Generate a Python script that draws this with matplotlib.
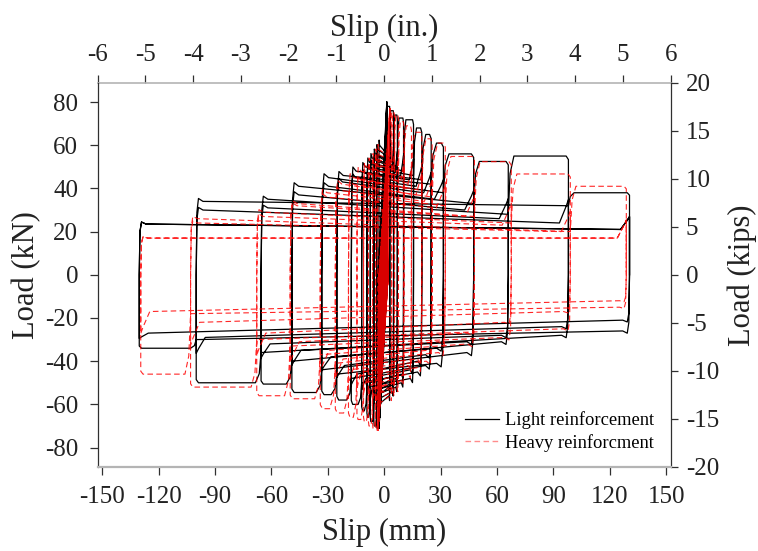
import numpy as np
import matplotlib
matplotlib.use('Agg')
import matplotlib.pyplot as plt
from matplotlib.lines import Line2D

plt.rcParams['font.family'] = ['Liberation Serif', 'DejaVu Serif']
plt.rcParams['axes.unicode_minus'] = False

MM_PER_IN = 25.4
KN_PER_KIP = 4.44822

# ---- data (slip in mm, load in kN) ----
series_labels = ['Light reinforcement', 'Heavy reinforcment']

# small elastic cycles before slip (negative peak / positive peak)
light_pre_neg_x = [-0.3, -0.6, -0.9, -1.2, -1.6, -2.0, -2.4, -2.8]
light_pre_neg_p = [-12, -22, -32, -42, -52, -60, -66, -71]
light_pre_pos_x = [0.1, 0.25, 0.4, 0.6, 0.8, 1.0, 1.2, 1.4]
light_pre_pos_p = [12, 22, 33, 44, 55, 64, 73, 80]

heavy_pre_neg_x = [-0.4, -0.8, -1.2, -1.6, -2.0, -2.5, -3.0, -3.4]
heavy_pre_neg_p = [-12, -22, -33, -44, -54, -62, -68, -72]
heavy_pre_pos_x = [0.3, 0.6, 0.9, 1.3, 1.7, 2.1, 2.5, 3.0]
heavy_pre_pos_p = [12, 22, 32, 43, 53, 62, 70, 77]

# slip levels: amplitudes, peaks (first cycle), plateaus (start, end) of 1st / 2nd cycle
light_amp_pos = [3.0, 5.0, 7.0, 10.3, 15.6, 20.0, 25.0, 31.5, 47.6, 66.0, 98.0, 130.5]
light_amp_neg = [-4.0, -5.5, -7.4, -9.2, -12.0, -17.5, -25.2, -33.2, -49.1, -65.5, -100.0, -130.3]
light_peak_pos = [78, 76, 74, 72.6, 71.8, 68, 65, 61, 56, 52.5, 55, 38]
light_peak_neg = [-71, -70, -68, -66, -63, -60, -58, -55.5, -54.5, -50.6, -50, -34]
light_plat1_pos = [(60, 56), (58, 54), (56, 52), (54, 50), (52, 48), (50, 46), (48, 44),
                   (46, 42), (45, 38), (41, 33), (35, 28), (34, 32)]
light_plat1_neg = [(-56, -60), (-54, -58), (-52, -56), (-50, -54), (-48, -52), (-45, -50), (-42, -48),
                   (-41, -46), (-36, -44), (-31, -40), (-28, -36), (-26, -30)]
light_plat2_pos = [(55, 52), (53, 50), (51, 48), (49, 46), (47, 44), (45, 41), (43, 38),
                   (41, 35), (37, 30), (31, 26), (30, 24), (23.5, 21)]
light_plat2_neg = [(-52, -56), (-50, -54), (-48, -52), (-46, -50), (-44, -48), (-40, -46), (-37, -42),
                   (-34, -38), (-31, -35), (-28, -32), (-24, -29), (-21, -27)]

heavy_amp_pos = [4.0, 5.5, 7.6, 10.5, 14.5, 20.0, 25.5, 32.5, 48.0, 67.6, 99.0, 128.8]
heavy_amp_neg = [-4.6, -6.2, -8.4, -11.0, -14.5, -19.0, -26.0, -34.0, -50.0, -67.8, -103.0, -129.5]
heavy_peak_pos = [76, 75, 74, 71, 69, 66, 63, 61, 54.8, 52.4, 46.7, 41]
heavy_peak_neg = [-72, -71, -70, -68, -67, -66, -64, -62, -57.4, -56, -52, -46]
heavy_plat1_pos = [(58, 55), (56, 53), (54, 51), (52, 48), (50, 45), (48, 42), (45, 39),
                   (42, 36), (38, 32), (33, 27), (29, 24), (26, 20)]
heavy_plat1_neg = [(-56, -60), (-54, -58), (-52, -56), (-49, -53), (-46, -50), (-43, -47), (-40, -44),
                   (-36, -41), (-32, -37), (-29, -33), (-25, -30), (-15, -18)]
heavy_plat2_pos = [(53, 50), (51, 48), (49, 46), (47, 43), (44, 40), (42, 37), (39, 34),
                   (36, 31), (32, 27), (27, 23), (24, 20), (17, 17)]
heavy_plat2_neg = [(-52, -55), (-50, -53), (-48, -51), (-45, -48), (-42, -45), (-39, -42), (-35, -39),
                   (-31, -35), (-27, -31), (-22, -27), (-17, -22), (-12, -17)]

x_ticks_mm = list(range(-150, 151, 30))
y_ticks_kn = list(range(-80, 81, 20))
x_ticks_in = list(range(-6, 7))
y_ticks_kip = list(range(-20, 21, 5))

# loop widths used for the repeated pre-slip cycles (dense core near zero)
pre_loop_widths = [0.4, 1.0, 1.7, 2.4]


def elastic_loop(xn, pn, xp, pp, w=0.35):
    # loop along the chord between the two peaks
    x0 = xn + (xp - xn) * (-pn) / (pp - pn)
    return [(xn, pn), (x0 - w, 0.0), (xp, pp), (x0 + w, 0.0), (xn, pn)]


def half_cycle(x_from, x_prev, x_to, plateau, peak, new):
    d = np.sign(x_to - x_from)
    h = min(0.02 * abs(x_to - x_from), 1.2)
    f0, f1 = plateau
    pts = [(x_from, 0.0), (x_from + 0.3 * d * h, 0.85 * f0),
           (x_from + d * h, 1.04 * f0), (x_from + 3 * d * h, f0)]
    if new:
        pts += [(x_prev, f1), (x_prev + 0.8 * d * h, f1 + 0.7 * (peak - f1)),
                (x_prev + 2.5 * d * h, peak), (x_to - d * h, peak), (x_to, 0.97 * peak)]
    else:
        pts += [(x_to - 4 * d * h, f1), (x_to - d * h, f1 + 0.25 * (peak - f1)),
                (x_to, f1 + 0.35 * (peak - f1))]
    return pts


def build_path(pre_nx, pre_np, pre_px, pre_pp, amp_p, amp_n, pk_p, pk_n, p1p, p1n, p2p, p2n):
    pts = [(0.0, 0.0)]
    for k in range(len(pre_nx)):
        for w in pre_loop_widths:
            pts += elastic_loop(pre_nx[k], pre_np[k], pre_px[k], pre_pp[k], w)
    xn_prev, xp_prev = pre_nx[-1], pre_px[-1]
    for i in range(len(amp_p)):
        pts += half_cycle(xn_prev, xp_prev, amp_p[i], p1p[i], pk_p[i], True)
        pts += half_cycle(amp_p[i], xn_prev, amp_n[i], p1n[i], pk_n[i], True)
        pts += half_cycle(amp_n[i], None, amp_p[i], p2p[i], pk_p[i], False)
        pts += half_cycle(amp_p[i], None, amp_n[i], p2n[i], pk_n[i], False)
        xn_prev, xp_prev = amp_n[i], amp_p[i]
    pts += half_cycle(amp_n[-1], None, amp_p[-1], p2p[-1], pk_p[-1], False)
    pts += [(amp_p[-1], 0.0)]
    arr = np.array(pts)
    return arr[:, 0], arr[:, 1]


light_x, light_y = build_path(light_pre_neg_x, light_pre_neg_p, light_pre_pos_x, light_pre_pos_p,
                              light_amp_pos, light_amp_neg, light_peak_pos, light_peak_neg,
                              light_plat1_pos, light_plat1_neg, light_plat2_pos, light_plat2_neg)
heavy_x, heavy_y = build_path(heavy_pre_neg_x, heavy_pre_neg_p, heavy_pre_pos_x, heavy_pre_pos_p,
                              heavy_amp_pos, heavy_amp_neg, heavy_peak_pos, heavy_peak_neg,
                              heavy_plat1_pos, heavy_plat1_neg, heavy_plat2_pos, heavy_plat2_neg)

fig = plt.figure(figsize=(7.58, 5.51), dpi=100)
ax = fig.add_axes([0.1289, 0.1526, 0.7559, 0.6973])

ax.plot(light_x, light_y, color='black', lw=0.9, zorder=2)
ax.plot(heavy_x, heavy_y, color='red', lw=0.8, alpha=0.85, linestyle=(0, (5, 3)), zorder=3)

ax.set_xlim(-6 * MM_PER_IN, 6 * MM_PER_IN)
ax.set_ylim(-20 * KN_PER_KIP, 20 * KN_PER_KIP)
ax.set_xticks(x_ticks_mm)
ax.set_yticks(y_ticks_kn)

text_col = '#222222'
dark = '#303030'
grey = '#b4b4b4'

ax.spines['top'].set_visible(False)
ax.spines['right'].set_visible(False)
ax.spines['bottom'].set_color(grey)
ax.spines['bottom'].set_linewidth(1.6)
ax.spines['left'].set_color(dark)
ax.spines['left'].set_linewidth(0.9)
ax.tick_params(direction='out', length=6, width=0.9, color=dark, labelsize=18,
               labelcolor=text_col, pad=8)

secx = ax.secondary_xaxis('top', functions=(lambda x: x / MM_PER_IN, lambda x: x * MM_PER_IN))
secy = ax.secondary_yaxis('right', functions=(lambda y: y / KN_PER_KIP, lambda y: y * KN_PER_KIP))
secx.set_xticks(x_ticks_in)
secy.set_yticks(y_ticks_kip)
secx.spines['top'].set_color(grey)
secx.spines['top'].set_linewidth(1.2)
secy.spines['right'].set_color(dark)
secy.spines['right'].set_linewidth(0.9)
secx.tick_params(direction='out', length=6, width=0.9, color=dark, labelsize=18,
                 labelcolor=text_col, pad=6)
secy.tick_params(direction='out', length=5, width=0.9, color=dark, labelsize=18,
                 labelcolor=text_col, pad=6)

ax.set_xlabel('Slip (mm)', fontsize=22, color=text_col, labelpad=7)
ax.set_ylabel('Load (kN)', fontsize=22, color=text_col, labelpad=3)
secx.set_xlabel('Slip (in.)', fontsize=22, color=text_col, labelpad=6)
secy.set_ylabel('Load (kips)', fontsize=22, color=text_col, labelpad=6)

handles = [Line2D([], [], color='black', lw=0.9),
           Line2D([], [], color=(1.0, 0.55, 0.55), lw=1.0, linestyle=(0, (4, 2.5)))]
ax.legend(handles, series_labels, loc='lower right', bbox_to_anchor=(0.971, 0.04),
          frameon=False, fontsize=13.3, handlelength=1.85, handletextpad=0.3,
          labelspacing=0.25, borderpad=0, borderaxespad=0)

fig.savefig('out.png', dpi=100)
